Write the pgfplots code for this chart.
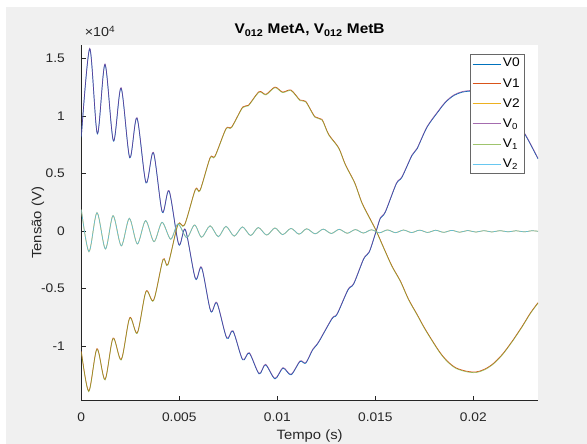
\documentclass[border=0pt]{standalone}
\usepackage{pgfplots}
\usepackage{pgfplotstable}
\pgfplotsset{compat=1.18}
\usepackage{fontspec}
\setmainfont{Liberation Sans}[FakeStretch=1.1]
\definecolor{figgray}{RGB}{240,240,240}
\definecolor{mblue}{RGB}{0,114,189}
\definecolor{morange}{RGB}{217,83,25}
\definecolor{myellow}{RGB}{237,177,32}
\definecolor{mpurple}{RGB}{126,47,142}
\definecolor{mgreen}{RGB}{119,172,48}
\definecolor{mcyan}{RGB}{77,190,238}
\definecolor{axgray}{RGB}{38,38,38}

\pgfplotstableread{
t v
0 0.82
0.00043 1.588
0.00082 0.849
0.00121 1.452
0.00164 0.786
0.00203 1.246
0.00247 0.641
0.00284 0.986
0.00330 0.423
0.00368 0.684
0.00413 0.168
0.00448 0.351
0.00497 -0.113
0.00531 0.014
0.00582 -0.410
0.00614 -0.316
0.00660 -0.693
0.00692 -0.623
0.00742 -0.928
0.00774 -0.867
0.00823 -1.116
0.00857 -1.058
0.00907 -1.238
0.00940 -1.159
0.00988 -1.281
0.01029 -1.188
0.01070 -1.246
0.01116 -1.130
0.01145 -1.145
0.01180 -1.030
0.01210 -0.965
0.01279 -0.759
0.01305 -0.720
0.01361 -0.507
0.01390 -0.455
0.01441 -0.238
0.01469 -0.180
0.01504 0.000
0.01526 0.116
0.01551 0.168
0.01607 0.414
0.01636 0.472
0.01687 0.661
0.01713 0.719
0.01764 0.907
0.01825 1.052
0.01859 1.125
0.01901 1.183
0.01944 1.212
0.02000 1.222
0.02050 1.205
0.02100 1.160
0.02150 1.087
0.02200 0.987
0.02262 0.849
0.02330 0.632
}\tabVzero

\pgfplotstableread{
t v
0 -1.05
0.00038 -1.397
0.00080 -1.029
0.00121 -1.296
0.00162 -0.936
0.00204 -1.122
0.00247 -0.759
0.00286 -0.890
0.00330 -0.530
0.00369 -0.606
0.00417 -0.252
0.00442 -0.296
0.00493 0.052
0.00527 0.050
0.00582 0.357
0.00606 0.350
0.00657 0.632
0.00682 0.646
0.00738 0.884
0.00767 0.899
0.00823 1.072
0.00852 1.087
0.00907 1.206
0.00942 1.183
0.00988 1.246
0.01027 1.203
0.01070 1.220
0.01116 1.133
0.01145 1.122
0.01192 0.988
0.01228 0.965
0.01262 0.835
0.01313 0.719
0.01347 0.574
0.01395 0.414
0.01432 0.240
0.01475 0.096
0.01504 0.000
0.01543 -0.151
0.01585 -0.310
0.01628 -0.440
0.01670 -0.600
0.01713 -0.730
0.01755 -0.860
0.01825 -1.049
0.01867 -1.136
0.01910 -1.194
0.01961 -1.223
0.02012 -1.232
0.02055 -1.209
0.02097 -1.165
0.02148 -1.078
0.02199 -0.962
0.02250 -0.832
0.02292 -0.716
0.02330 -0.629
}\tabVone

\pgfplotstableread{
t v
0 0.188
0.00039 -0.180
0.00080 0.159
0.00123 -0.157
0.00162 0.133
0.00204 -0.130
0.00245 0.110
0.00286 -0.113
0.00328 0.090
0.00371 -0.093
0.00412 0.075
0.00456 -0.072
0.00493 0.061
0.00538 -0.058
0.00578 0.052
0.00614 -0.055
0.00657 0.045
0.00699 -0.050
0.00738 0.040
0.00780 -0.045
0.00822 0.035
0.00864 -0.040
0.00903 0.030
0.00946 -0.036
0.00988 0.026
0.01027 -0.032
0.01070 0.022
0.01111 -0.028
0.01150 0.019
0.01193 -0.025
0.01234 0.016
0.01275 -0.022
0.01316 0.014
0.01357 -0.020
0.01398 0.012
0.01439 -0.018
0.01480 0.010
0.01521 -0.016
0.01562 0.009
0.01603 -0.015
0.01644 0.008
0.01685 -0.014
0.01726 0.007
0.01767 -0.013
0.01808 0.006
0.01849 -0.012
0.01890 0.005
0.01931 -0.011
0.01972 0.004
0.02013 -0.010
0.02054 0.003
0.02095 -0.009
0.02136 0.003
0.02177 -0.008
0.02218 0.002
0.02259 -0.008
0.02300 0.002
0.02330 -0.003
}\tabVtwo

\begin{document}
\begin{tikzpicture}[x=1pt,y=1pt]
\fill[white] (0,0) rectangle (587,444);
\fill[figgray] (6,0) rectangle (587,437);
\useasboundingbox (0,0) rectangle (587,444);
\begin{axis}[
  at={(81.3pt,43.3pt)}, anchor=south west,
  scale only axis, width=456.7pt, height=355.7pt,
  xmin=0, xmax=0.0233, ymin=-1.476, ymax=1.617,
  axis background/.style={fill=white},
  axis x line*=bottom, axis y line*=left,
  axis line style={-, draw=axgray, line width=0.5pt},
  tick align=inside, major tick length=5pt,
  tick style={draw=axgray, line width=0.5pt},
  scaled x ticks=false, scaled y ticks=false,
  xtick={0,0.005,0.01,0.015,0.02},
  xticklabels={0,0.005,0.01,0.015,0.02},
  ytick={-1,-0.5,0,0.5,1,1.5},
  yticklabels={-1,-0.5,0,0.5,1,1.5},
  ticklabel style={font=\fontsize{12.5}{14}\selectfont, text=axgray},
  xticklabel style={yshift=-9pt},
  yticklabel style={xshift=-13pt},
  xlabel={Tempo (s)},
  xlabel style={at={(axis description cs:0.5,-0.109)}, anchor=base, font=\fontsize{13.5}{15}\selectfont, text=axgray},
  ylabel={Tensão (V)},
  ylabel style={at={(axis description cs:-0.0948,0.5)}, anchor=center, rotate=0, font=\fontsize{13.5}{15}\selectfont, text=axgray},
  title={V\textsubscript{012} MetA, V\textsubscript{012} MetB},
  title style={at={(axis description cs:0.5,1)}, anchor=base, yshift=5pt, font=\bfseries\fontsize{14}{16}\selectfont, text=black},
  legend style={at={(1,1)}, anchor=north east, xshift=-14pt, yshift=-9pt,
    draw=axgray!70, line width=0.5pt, fill=white, font=\fontsize{12.5}{14}\selectfont,
    inner sep=2pt, row sep=6pt},
  legend cell align=left,
  legend image code/.code={\draw[#1] (0pt,0pt) -- (28pt,0pt);},
  every axis plot/.append style={line width=0.7pt, smooth, tension=0.5},
  clip=true,
]
\addplot[mblue, yshift=-0.6pt] table[x=t,y=v] {\tabVzero};
\addplot[morange, yshift=0.6pt] table[x=t,y=v] {\tabVone};
\addplot[myellow] table[x=t,y=v] {\tabVtwo};
\addplot[mpurple, draw opacity=0.7] table[x=t,y=v] {\tabVzero};
\addplot[mgreen, draw opacity=0.7] table[x=t,y=v] {\tabVone};
\addplot[mcyan, draw opacity=0.85] table[x=t,y=v] {\tabVtwo};
\legend{V0,V1,V2,V\textsubscript{0},V\textsubscript{1},V\textsubscript{2}}
\end{axis}
\node[anchor=base west, font=\fontsize{13}{14}\selectfont, text=axgray] at (81.3,407) {×10\textsuperscript{4}};
\end{tikzpicture}
\end{document}
